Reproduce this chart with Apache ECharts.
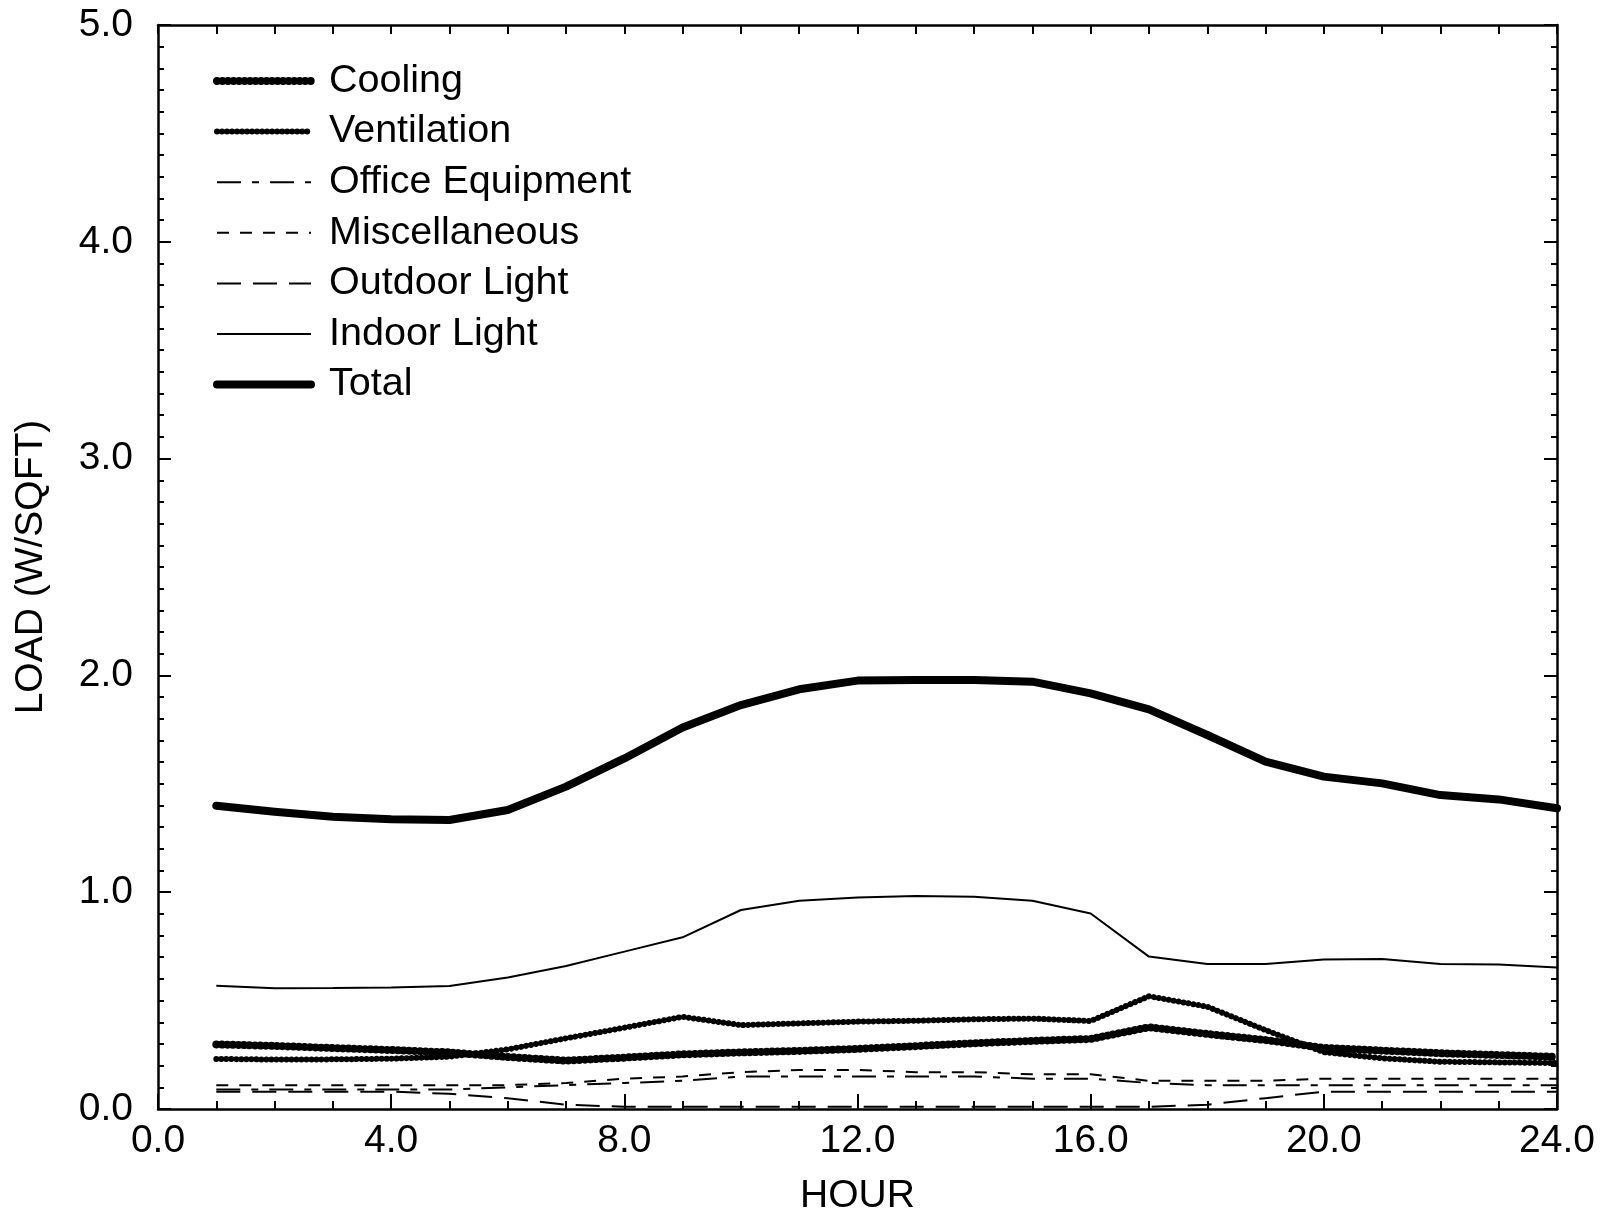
<!DOCTYPE html>
<html>
<head>
<meta charset="utf-8">
<title>Hourly Load Profile</title>
<script src="https://cdn.jsdelivr.net/npm/echarts@6/dist/echarts.min.js"></script>
<style>
  html, body { margin: 0; padding: 0; background: #fff; }
  #chart { width: 1613px; height: 1216px; }
</style>
</head>
<body>
<div id="chart"></div>
<script>
// Hour of day (1..24)
const hours = [1,2,3,4,5,6,7,8,9,10,11,12,13,14,15,16,17,18,19,20,21,22,23,24];

// Loads in W/sqft for each hour
const cooling = [0.298,0.291,0.281,0.272,0.261,0.240,0.223,0.237,0.252,0.261,0.268,0.277,0.290,0.303,0.314,0.323,0.377,0.346,0.318,0.282,0.269,0.257,0.249,0.240];
const ventilation = [0.231,0.228,0.229,0.232,0.241,0.275,0.326,0.375,0.425,0.387,0.395,0.403,0.407,0.414,0.417,0.406,0.520,0.472,0.364,0.262,0.234,0.218,0.215,0.212];
const officeEquipment = [0.09,0.09,0.09,0.09,0.09,0.10,0.11,0.12,0.13,0.15,0.15,0.15,0.15,0.15,0.14,0.14,0.12,0.11,0.11,0.11,0.11,0.11,0.11,0.11];
const miscellaneous = [0.11,0.11,0.11,0.11,0.11,0.11,0.12,0.14,0.15,0.17,0.18,0.18,0.17,0.17,0.16,0.16,0.13,0.13,0.13,0.14,0.14,0.14,0.14,0.14];
const outdoorLight = [0.08,0.08,0.08,0.08,0.07,0.05,0.02,0.01,0.01,0.01,0.01,0.01,0.01,0.01,0.01,0.01,0.01,0.02,0.05,0.08,0.08,0.08,0.08,0.08];
const indoorLight = [0.569,0.557,0.558,0.560,0.567,0.607,0.660,0.726,0.792,0.918,0.961,0.976,0.982,0.979,0.961,0.902,0.703,0.669,0.669,0.690,0.692,0.669,0.667,0.653];
const total = [1.399,1.371,1.348,1.336,1.333,1.379,1.487,1.617,1.760,1.863,1.936,1.976,1.979,1.979,1.971,1.917,1.843,1.725,1.602,1.533,1.502,1.448,1.428,1.387];

const seriesNames = ['Cooling','Ventilation','Office Equipment','Miscellaneous','Outdoor Light','Indoor Light','Total'];

const FONT = '"Liberation Sans", Arial, Helvetica, sans-serif';
const INK = '#000';

// Stroke style of each curve, shared by the plot and its legend key
const styles = {
  'Cooling':          { width: 8, type: [0.01, 5.5], cap: 'round', join: 'round' },
  'Ventilation':      { width: 6, type: [0.01, 5], cap: 'round', join: 'round' },
  'Office Equipment': { width: 2, type: [24, 11, 7, 11] },
  'Miscellaneous':    { width: 2, type: [12, 11] },
  'Outdoor Light':    { width: 2, type: [24, 12] },
  'Indoor Light':     { width: 2, type: 'solid' },
  'Total':            { width: 8, type: 'solid', cap: 'round', join: 'round' }
};

function pairs(values) {
  return hours.map((h, i) => [h, values[i]]);
}

function lineSeries(name, values) {
  return {
    name: name,
    type: 'line',
    data: pairs(values),
    symbol: 'none',
    showSymbol: false,
    silent: true,
    animation: false,
    lineStyle: Object.assign({ color: INK }, styles[name]),
    itemStyle: { color: INK },
    z: 3
  };
}

const fmt = v => v.toFixed(1);

const chart = echarts.init(document.getElementById('chart'), null, { renderer: 'canvas' });

chart.setOption({
  backgroundColor: '#fff',
  animation: false,
  textStyle: { fontFamily: FONT, color: INK },
  grid: { left: 158, right: 56, top: 25, bottom: 107, containLabel: false, outerBoundsMode: 'none' },
  legend: {
    orient: 'vertical',
    left: 208,
    top: 56,
    itemWidth: 94,
    itemHeight: 14,
    itemGap: 10.6,
    inactiveColor: INK,
    selectedMode: false,
    itemStyle: { opacity: 0, borderWidth: 0 },
    data: seriesNames.map(n => ({
      name: n,
      itemStyle: { opacity: 0, borderWidth: 0 },
      lineStyle: Object.assign({ color: INK }, styles[n])
    })),
    textStyle: {
      fontFamily: FONT,
      fontSize: 39.5,
      color: INK,
      lineHeight: 38,
      padding: [0, 0, 0, 13]
    }
  },
  xAxis: [
    {
      type: 'value',
      position: 'bottom',
      min: 0, max: 24, interval: 4,
      name: 'HOUR',
      nameLocation: 'middle',
      nameGap: 68,
      nameTextStyle: { fontFamily: FONT, fontSize: 39, color: INK },
      axisLine: { show: true, onZero: false, lineStyle: { color: INK, width: 2.5 } },
      axisTick: { show: true, inside: true, length: 15, lineStyle: { color: INK, width: 2 } },
      minorTick: { show: true, splitNumber: 4, length: 8, lineStyle: { color: INK, width: 2 } },
      axisLabel: { formatter: fmt, fontFamily: FONT, fontSize: 39, color: INK, margin: 13 },
      splitLine: { show: false }
    },
    {
      type: 'value',
      position: 'top',
      min: 0, max: 24, interval: 4,
      axisLine: { show: true, onZero: false, lineStyle: { color: INK, width: 2.5 } },
      axisTick: { show: true, inside: true, length: 9, lineStyle: { color: INK, width: 2 } },
      minorTick: { show: true, splitNumber: 4, length: 9, lineStyle: { color: INK, width: 2 } },
      axisLabel: { show: false },
      splitLine: { show: false }
    }
  ],
  yAxis: [
    {
      type: 'value',
      position: 'left',
      min: 0, max: 5, interval: 1,
      name: 'LOAD (W/SQFT)',
      nameLocation: 'middle',
      nameGap: 107,
      nameTextStyle: { fontFamily: FONT, fontSize: 39, color: INK },
      axisLine: { show: true, onZero: false, lineStyle: { color: INK, width: 2.5 } },
      axisTick: { show: true, inside: true, length: 13, lineStyle: { color: INK, width: 2 } },
      minorTick: { show: true, splitNumber: 10, length: 6, lineStyle: { color: INK, width: 2 } },
      axisLabel: { formatter: fmt, fontFamily: FONT, fontSize: 39, color: INK, margin: 25 },
      splitLine: { show: false }
    },
    {
      type: 'value',
      position: 'right',
      min: 0, max: 5, interval: 1,
      axisLine: { show: true, onZero: false, lineStyle: { color: INK, width: 2.5 } },
      axisTick: { show: true, inside: true, length: 13, lineStyle: { color: INK, width: 2 } },
      minorTick: { show: true, splitNumber: 10, length: 6, lineStyle: { color: INK, width: 2 } },
      axisLabel: { show: false },
      splitLine: { show: false }
    }
  ],
  series: [
    lineSeries('Cooling', cooling),
    lineSeries('Ventilation', ventilation),
    lineSeries('Office Equipment', officeEquipment),
    lineSeries('Miscellaneous', miscellaneous),
    lineSeries('Outdoor Light', outdoorLight),
    lineSeries('Indoor Light', indoorLight),
    lineSeries('Total', total)
  ]
});
</script>
</body>
</html>
